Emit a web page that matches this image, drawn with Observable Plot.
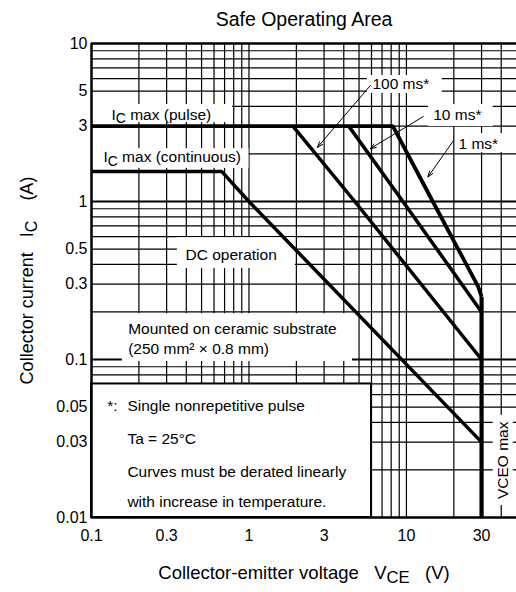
<!DOCTYPE html>
<html><head><meta charset="utf-8">
<script src="https://cdn.jsdelivr.net/npm/d3@7"></script>
<script src="https://cdn.jsdelivr.net/npm/@observablehq/plot@0.6"></script>
<style>
html,body{margin:0;padding:0;background:#fff;overflow:hidden}
svg text{white-space:pre}
</style></head><body><div id="chart"></div>
<script>
// ---- data ----
const xTicks = [0.1, 0.3, 1, 3, 10, 30];
const yTicks = [0.01, 0.03, 0.05, 0.1, 0.3, 0.5, 1, 3, 5, 10];
const xGrid = [0.2,0.3,0.4,0.5,0.6,0.7,0.8,0.9,1,2,3,4,5,6,7,8,9,10,20,30,40];
const yGrid = [0.02,0.03,0.04,0.05,0.06,0.07,0.08,0.09,0.1,0.2,0.3,0.4,0.5,0.6,0.7,0.8,0.9,1,2,3,4,5,6,7,8,9];
const yDecades = [0.1, 1];

// SOA boundaries [VCE (V), IC (A)]
const pulse1ms = [[0.1,3],[8.2,3],[14.7,1],[28.5,0.29],[30,0.25]];
const pulse10ms = [[4.3,3],[9.5,1],[30,0.2]];
const pulse100ms = [[1.9,3],[4.7,1],[30,0.1]];
const dcOperation = [[0.1,1.55],[0.67,1.55],[1,1],[30,0.03]];
const vceoMax = [[30,0.25],[30,0.01]];

// annotation labels (data coordinates of text start / baseline)
const labels = [
  {text:"I_C max (pulse)", x:0.134, y:3.30},
  {text:"I_C max (continuous)", x:0.119, y:1.77},
  {text:"100 ms*", x:6.08, y:5.19},
  {text:"10 ms*", x:14.8, y:3.26},
  {text:"1 ms*", x:21.4, y:2.16},
  {text:"DC operation", x:0.395, y:0.424},
  {text:"Mounted on ceramic substrate", x:0.171, y:0.146},
  {text:"(250 mm² × 0.8 mm)", x:0.171, y:0.109}
];
// white backgrounds behind labels [x1, x2, y1, y2]
const labelBoxes = [
  [0.1, 0.786, 3.16, 4.11],
  [0.1, 1.0, 1.62, 2.16],
  [5.65, 16.9, 4.83, 6.27],
  [13.8, 35.6, 2.98, 4.11],
  [20.5, 41.3, 2.04, 2.69],
  [0.351, 1.97, 0.377, 0.59],
  [0.1, 4.74, 0.103, 0.195],
  [0.157, 4.54, 0.0971, 0.103],
  [35.6, 47.7, 0.0119, 0.0443]
];
// arrows [x1, y1, x2, y2]
const arrows = [
  [5.90, 5.42, 2.72, 2.2],
  [12.8, 3.45, 5.90, 2.16],
  [19.9, 2.43, 13.7, 1.43]
];
const noteBox = [[0.1, 6, 0.01, 0.07]];
const noteStar = [{text:"*:", x:0.126, y:0.0475}];
const noteLines = [
  {text:"Single nonrepetitive pulse", x:0.169, y:0.0475},
  {text:"Ta = 25°C", x:0.169, y:0.0294},
  {text:"Curves must be derated linearly", x:0.169, y:0.01815},
  {text:"with increase in temperature.", x:0.169, y:0.0116}
];
const vceoLabel = [{text:"VCEO max", x:41.3, y:0.023}];
const title = "Safe Operating Area";
const xLabel = "Collector-emitter voltage   V_CE   (V)";
const yLabel = "Collector current   I_C    (A)";

const font = "Liberation Sans, Arial, Helvetica, sans-serif";
const line = (data, w = 3.5) => Plot.line(data, {stroke: "black", strokeWidth: w, strokeLinejoin: "miter", strokeLinecap: "butt"});

const chart = Plot.plot({
  width: 516, height: 592,
  marginLeft: 91, marginRight: 0, marginTop: 43, marginBottom: 75,
  style: {fontFamily: font, fontSize: "16px", background: "white", color: "black"},
  x: {type: "log", domain: [0.1, 50], ticks: xTicks, tickFormat: d => String(d), tickSize: 0, tickPadding: 12, label: null},
  y: {type: "log", domain: [0.01, 10], axis: null},
  marks: [
    Plot.ruleX(xGrid, {stroke: "black", strokeWidth: 1.2}),
    Plot.ruleY(yGrid, {stroke: "black", strokeWidth: 1.2}),
    Plot.ruleY(yDecades, {stroke: "black", strokeWidth: 2}),
    Plot.rect(labelBoxes, {x1: d => d[0], x2: d => d[1], y1: d => d[2], y2: d => d[3], fill: "white"}),
    Plot.rect(noteBox, {x1: d => d[0], x2: d => d[1], y1: d => d[2], y2: d => d[3], fill: "white", stroke: "black", strokeWidth: 2}),
    line(pulse1ms, 3.8),
    line(pulse10ms),
    line(pulse100ms),
    line(dcOperation),
    line(vceoMax, 4.2),
    Plot.ruleX([0.1], {stroke: "black", strokeWidth: 2.5}),
    Plot.ruleY([10, 0.01], {stroke: "black", strokeWidth: 2.5}),
    Plot.text(yTicks, {y: d => d, text: d => String(d), frameAnchor: "left", textAnchor: "end", lineAnchor: "middle", dx: -4, fontSize: 16, fill: "black"}),
    Plot.arrow(arrows, {x1: d => d[0], y1: d => d[1], x2: d => d[2], y2: d => d[3], stroke: "black", strokeWidth: 1, headLength: 9, headAngle: 40}),
    Plot.text(labels, {x: "x", y: "y", text: "text", textAnchor: "start", lineAnchor: "bottom", fontSize: 15.5, fill: "black"}),
    Plot.text(noteStar, {x: "x", y: "y", text: "text", textAnchor: "start", lineAnchor: "bottom", fontSize: 15.5, fill: "black"}),
    Plot.text(noteLines, {x: "x", y: "y", text: "text", textAnchor: "start", lineAnchor: "bottom", fontSize: 15.5, fill: "black"}),
    Plot.text(vceoLabel, {x: "x", y: "y", text: "text", rotate: -90, textAnchor: "middle", lineAnchor: "middle", fontSize: 15.5, fill: "black"}),
    Plot.text([title], {text: d => d, frameAnchor: "top", textAnchor: "middle", dy: -18, lineAnchor: "bottom", fontSize: 19.5, fill: "black"}),
    Plot.text([xLabel], {text: d => d, frameAnchor: "bottom", textAnchor: "middle", dy: 61, lineAnchor: "bottom", fontSize: 18.5, fill: "black"}),
    Plot.text([yLabel], {text: d => d, frameAnchor: "left", textAnchor: "middle", dx: -59, rotate: -90, lineAnchor: "bottom", fontSize: 18, fill: "black"})
  ]
});

// subscripts: "X_SUB" -> X with lowered SUB
chart.querySelectorAll("text").forEach(t => {
  const s = t.textContent;
  const m = s.match(/^(.*?)([A-Z])_([A-Z]+)(.*)$/);
  if (m) {
    t.textContent = "";
    const ns = "http://www.w3.org/2000/svg";
    const a = document.createElementNS(ns, "tspan"); a.textContent = m[1] + m[2];
    const b = document.createElementNS(ns, "tspan"); b.textContent = m[3]; b.setAttribute("dy", "0.25em"); b.setAttribute("font-size", "0.9em");
    const c = document.createElementNS(ns, "tspan"); c.textContent = m[4]; c.setAttribute("dy", "-0.225em");
    t.append(a, b, c);
  }
});
document.getElementById("chart").append(chart);
</script></body></html>
